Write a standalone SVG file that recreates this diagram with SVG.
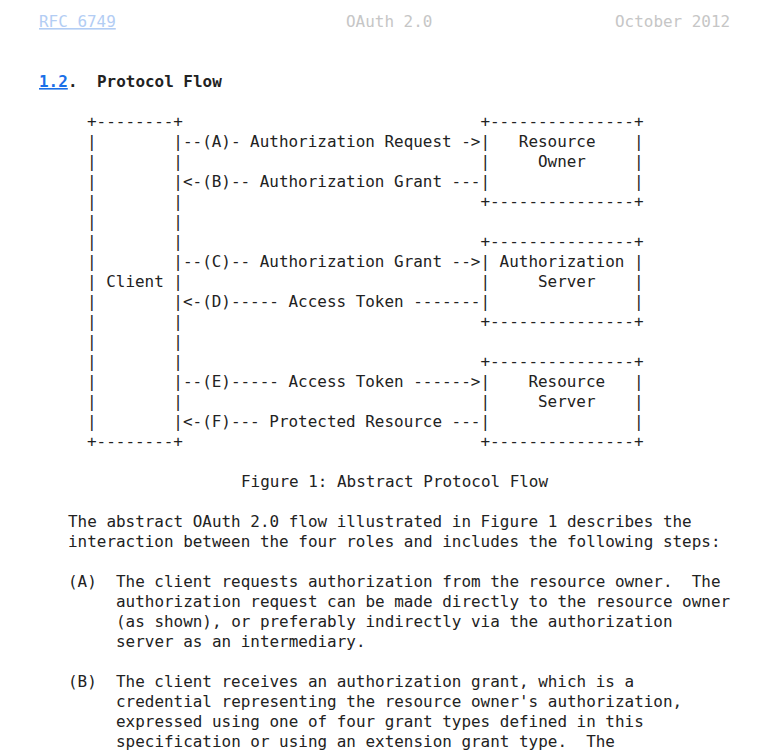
<svg xmlns="http://www.w3.org/2000/svg" width="782" height="750" viewBox="0 0 782 750">
<style>
text{font-family:"DejaVu Sans Mono","Liberation Mono",monospace;font-size:15.95px;fill:#222;white-space:pre}
.hdr{fill:#c6c6c6}
.rfc{fill:#b3cdf4;text-decoration:underline}
.sec{fill:#1a6fe8;font-weight:bold;text-decoration:underline}
.b{font-weight:bold}
</style>
<rect width="782" height="750" fill="#fff"/>
<g id="header">
<text x="39" y="27" class="rfc">RFC 6749</text>
<text x="346" y="27" class="hdr">OAuth 2.0</text>
<text x="615" y="27" class="hdr">October 2012</text>
</g>
<g id="heading">
<text x="39" y="87" class="sec">1.2</text>
<text x="68" y="87" class="b">.</text>
<text x="97" y="87" class="b">Protocol Flow</text>
</g>
<g id="figure" xml:space="preserve">
<text x="87" y="127">+--------+                               +---------------+</text>
<text x="87" y="147">|        |--(A)- Authorization Request -&gt;|   Resource    |</text>
<text x="87" y="167">|        |                               |     Owner     |</text>
<text x="87" y="187">|        |&lt;-(B)-- Authorization Grant ---|               |</text>
<text x="87" y="207">|        |                               +---------------+</text>
<text x="87" y="227">|        |</text>
<text x="87" y="247">|        |                               +---------------+</text>
<text x="87" y="267">|        |--(C)-- Authorization Grant --&gt;| Authorization |</text>
<text x="87" y="287">| Client |                               |     Server    |</text>
<text x="87" y="307">|        |&lt;-(D)----- Access Token -------|               |</text>
<text x="87" y="327">|        |                               +---------------+</text>
<text x="87" y="347">|        |</text>
<text x="87" y="367">|        |                               +---------------+</text>
<text x="87" y="387">|        |--(E)----- Access Token ------&gt;|    Resource   |</text>
<text x="87" y="407">|        |                               |     Server    |</text>
<text x="87" y="427">|        |&lt;-(F)--- Protected Resource ---|               |</text>
<text x="87" y="447">+--------+                               +---------------+</text>
</g>
<g id="caption">
<text x="241" y="487">Figure 1: Abstract Protocol Flow</text>
</g>
<g id="body" xml:space="preserve">
<text x="68" y="527">The abstract OAuth 2.0 flow illustrated in Figure 1 describes the</text>
<text x="68" y="547">interaction between the four roles and includes the following steps:</text>
<text x="68" y="587">(A)  The client requests authorization from the resource owner.  The</text>
<text x="116" y="607">authorization request can be made directly to the resource owner</text>
<text x="116" y="627">(as shown), or preferably indirectly via the authorization</text>
<text x="116" y="647">server as an intermediary.</text>
<text x="68" y="687">(B)  The client receives an authorization grant, which is a</text>
<text x="116" y="707">credential representing the resource owner's authorization,</text>
<text x="116" y="727">expressed using one of four grant types defined in this</text>
<text x="116" y="747">specification or using an extension grant type.  The</text>
</g>
</svg>
